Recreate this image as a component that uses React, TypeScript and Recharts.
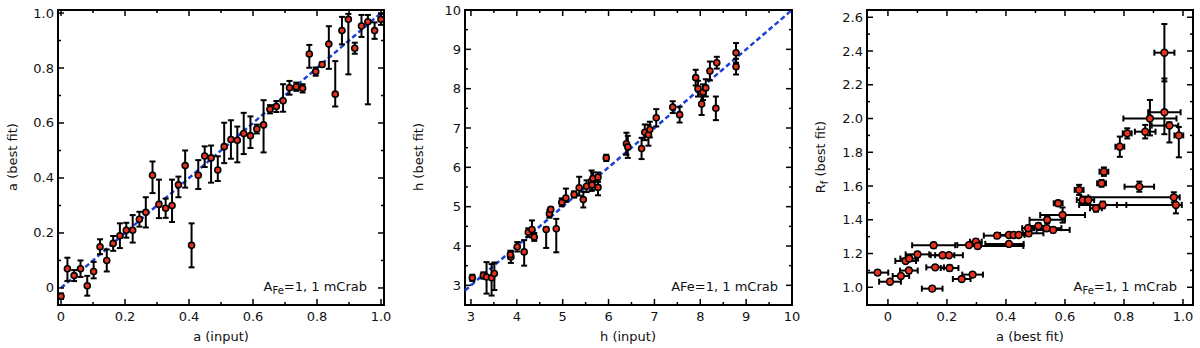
import { ScatterChart, Scatter, XAxis, YAxis, ErrorBar, ReferenceArea, ReferenceLine } from "recharts";

// panel 1: a (input) vs a (best fit)
const aInput = [0, 0.02, 0.041, 0.061, 0.082, 0.102, 0.122, 0.143, 0.163, 0.184, 0.204, 0.224, 0.245, 0.265, 0.286, 0.306, 0.327, 0.347, 0.367, 0.388, 0.408, 0.429, 0.449, 0.469, 0.49, 0.51, 0.531, 0.551, 0.571, 0.592, 0.612, 0.633, 0.653, 0.673, 0.694, 0.714, 0.735, 0.755, 0.776, 0.796, 0.816, 0.837, 0.857, 0.878, 0.898, 0.918, 0.939, 0.959, 0.98, 1.0];
const aBestFit = [-0.03, 0.07, 0.045, 0.07, 0.008, 0.06, 0.15, 0.1, 0.162, 0.19, 0.21, 0.21, 0.25, 0.275, 0.41, 0.304, 0.29, 0.3, 0.375, 0.445, 0.155, 0.41, 0.48, 0.473, 0.429, 0.514, 0.54, 0.537, 0.562, 0.554, 0.578, 0.593, 0.65, 0.66, 0.681, 0.728, 0.732, 0.726, 0.851, 0.787, 0.813, 0.887, 0.705, 0.936, 0.977, 0.872, 0.953, 0.968, 0.936, 0.977];
const aErrLow = [0.01, 0.045, 0.02, 0.03, 0.036, 0.025, 0.027, 0.04, 0.027, 0.045, 0.027, 0.045, 0.027, 0.055, 0.065, 0.05, 0.035, 0.06, 0.045, 0.08, 0.08, 0.05, 0.04, 0.09, 0.04, 0.06, 0.07, 0.08, 0.075, 0.045, 0.016, 0.1, 0.015, 0.02, 0.04, 0.025, 0.015, 0.015, 0.05, 0.015, 0.008, 0.09, 0.045, 0.05, 0.2, 0.02, 0.04, 0.3, 0.03, 0.02];
const aErrHigh = [0.01, 0.04, 0.02, 0.03, 0.036, 0.035, 0.027, 0.04, 0.027, 0.045, 0.027, 0.055, 0.027, 0.055, 0.05, 0.09, 0.035, 0.094, 0.03, 0.055, 0.08, 0.055, 0.035, 0.045, 0.05, 0.087, 0.07, 0.05, 0.075, 0.07, 0.016, 0.09, 0.015, 0.02, 0.06, 0.025, 0.015, 0.015, 0.033, 0.015, 0.008, 0.065, 0.12, 0.05, 0.02, 0.02, 0.04, 0.025, 0.03, 0.02];

// panel 2: h (input) vs h (best fit)
const hInput = [3.03, 3.27, 3.34, 3.45, 3.51, 3.87, 3.86, 4.01, 4.16, 4.25, 4.33, 4.38, 4.64, 4.71, 4.74, 4.86, 4.98, 5.07, 5.25, 5.36, 5.45, 5.52, 5.63, 5.66, 5.64, 5.77, 5.77, 5.95, 6.39, 6.42, 6.72, 6.79, 6.87, 6.9, 7.04, 7.4, 7.55, 7.9, 7.95, 8.06, 8.12, 8.03, 8.21, 8.36, 8.34, 8.78, 8.78];
const hBestFit = [3.19, 3.25, 3.21, 3.19, 3.3, 3.72, 3.78, 3.98, 3.85, 4.35, 4.42, 4.23, 4.42, 4.82, 4.93, 4.44, 5.11, 5.22, 5.31, 5.48, 5.18, 5.52, 5.65, 5.72, 5.55, 5.49, 5.75, 6.24, 6.6, 6.52, 6.48, 6.89, 6.83, 6.96, 7.26, 7.53, 7.34, 8.28, 8.0, 7.91, 8.02, 7.61, 8.45, 8.66, 7.5, 8.91, 8.56];
const hErrLow = [0.08, 0.08, 0.42, 0.45, 0.42, 0.15, 0.1, 0.12, 0.35, 0.12, 0.2, 0.1, 0.47, 0.1, 0.05, 0.6, 0.1, 0.1, 0.08, 0.2, 0.2, 0.15, 0.25, 0.15, 0.12, 0.2, 0.12, 0.08, 0.28, 0.28, 0.27, 0.2, 0.28, 0.2, 0.22, 0.15, 0.2, 0.2, 0.2, 0.2, 0.22, 0.28, 0.24, 0.15, 0.3, 0.25, 0.2];
const hErrHigh = [0.08, 0.08, 0.38, 0.35, 0.28, 0.15, 0.1, 0.12, 0.3, 0.1, 0.23, 0.1, 0.05, 0.1, 0.05, 0.25, 0.1, 0.24, 0.08, 0.28, 0.2, 0.15, 0.27, 0.15, 0.12, 0.2, 0.12, 0.08, 0.28, 0.28, 0.27, 0.2, 0.25, 0.2, 0.22, 0.15, 0.2, 0.2, 0.2, 0.2, 0.22, 0.24, 0.24, 0.15, 0.3, 0.25, 0.2];

// panel 3: a (best fit) vs Rf (best fit)
const rA = [-0.035, 0.007, 0.044, 0.06, 0.071, 0.072, 0.1, 0.15, 0.155, 0.16, 0.185, 0.207, 0.209, 0.25, 0.275, 0.287, 0.298, 0.304, 0.37, 0.41, 0.41, 0.426, 0.443, 0.477, 0.475, 0.51, 0.54, 0.538, 0.56, 0.592, 0.577, 0.648, 0.66, 0.679, 0.705, 0.728, 0.724, 0.732, 0.786, 0.811, 0.852, 0.872, 0.888, 0.937, 0.937, 0.954, 0.986, 0.969, 0.976];
const rAErrLow = [0.036, 0.037, 0.028, 0.035, 0.03, 0.03, 0.04, 0.035, 0.073, 0.03, 0.04, 0.047, 0.03, 0.03, 0.04, 0.035, 0.02, 0.03, 0.045, 0.03, 0.08, 0.02, 0.02, 0.02, 0.02, 0.03, 0.06, 0.05, 0.056, 0.076, 0.015, 0.015, 0.02, 0.02, 0.02, 0.08, 0.015, 0.015, 0.015, 0.015, 0.05, 0.035, 0.09, 0.034, 0.055, 0.06, 0.015, 0.29, 0.2];
const rAErrHigh = [0.036, 0.037, 0.028, 0.035, 0.03, 0.03, 0.04, 0.035, 0.073, 0.03, 0.04, 0.047, 0.03, 0.03, 0.04, 0.035, 0.02, 0.155, 0.045, 0.03, 0.05, 0.02, 0.02, 0.05, 0.02, 0.03, 0.06, 0.05, 0.056, 0.076, 0.015, 0.015, 0.02, 0.02, 0.02, 0.08, 0.015, 0.015, 0.015, 0.015, 0.05, 0.035, 0.09, 0.034, 0.055, 0.03, 0.015, 0.02, 0.02];
const rfBestFit = [1.087, 1.033, 1.067, 1.156, 1.099, 1.17, 1.195, 0.992, 1.249, 1.118, 1.19, 1.19, 1.114, 1.049, 1.25, 1.075, 1.27, 1.245, 1.306, 1.31, 1.257, 1.31, 1.31, 1.32, 1.35, 1.363, 1.4, 1.35, 1.34, 1.428, 1.498, 1.577, 1.517, 1.517, 1.468, 1.488, 1.616, 1.685, 1.833, 1.912, 1.596, 1.922, 2.0, 2.39, 2.037, 1.958, 1.9, 1.533, 1.488];
const rfErrLow = [0.012, 0.012, 0.012, 0.012, 0.015, 0.015, 0.015, 0.012, 0.015, 0.012, 0.012, 0.012, 0.015, 0.012, 0.012, 0.012, 0.015, 0.015, 0.015, 0.012, 0.012, 0.012, 0.012, 0.015, 0.015, 0.015, 0.02, 0.015, 0.015, 0.045, 0.015, 0.03, 0.02, 0.02, 0.02, 0.02, 0.02, 0.025, 0.06, 0.03, 0.03, 0.04, 0.1, 0.17, 0.13, 0.1, 0.13, 0.03, 0.05];
const rfErrHigh = [0.012, 0.012, 0.012, 0.012, 0.015, 0.015, 0.015, 0.012, 0.015, 0.012, 0.012, 0.012, 0.015, 0.012, 0.012, 0.012, 0.015, 0.015, 0.015, 0.012, 0.012, 0.012, 0.012, 0.015, 0.015, 0.015, 0.02, 0.015, 0.015, 0.045, 0.015, 0.03, 0.02, 0.02, 0.02, 0.02, 0.02, 0.025, 0.06, 0.03, 0.03, 0.04, 0.11, 0.17, 0.2, 0.02, 0.05, 0.03, 0.05];

// ticks (minor + major) and labels
const unitTicks = [0, 0.1, 0.2, 0.3, 0.4, 0.5, 0.6, 0.7, 0.8, 0.9, 1.0];
const unitMajor = [0, 0.2, 0.4, 0.6, 0.8, 1.0];
const unitLabels = ["0", "0.2", "0.4", "0.6", "0.8", "1.0"];
const hTicks = [3, 3.5, 4, 4.5, 5, 5.5, 6, 6.5, 7, 7.5, 8, 8.5, 9, 9.5, 10];
const hMajor = [3, 4, 5, 6, 7, 8, 9, 10];
const hLabels = ["3", "4", "5", "6", "7", "8", "9", "10"];
const rfTicks = [1.0, 1.1, 1.2, 1.3, 1.4, 1.5, 1.6, 1.7, 1.8, 1.9, 2.0, 2.1, 2.2, 2.3, 2.4, 2.5, 2.6];
const rfMajor = [1.0, 1.2, 1.4, 1.6, 1.8, 2.0, 2.2, 2.4, 2.6];
const rfLabels = ["1.0", "1.2", "1.4", "1.6", "1.8", "2.0", "2.2", "2.4", "2.6"];

const H = 348;
const TOP = 10;
const PLOT_H = 295;
const FONT = "'DejaVu Sans', sans-serif";
const DOT = "#e8321e";
const DASH = "#1c3fd6";

const findLabel = (v: number, majors: number[], labels: string[]) => {
  const i = majors.findIndex((m) => Math.abs(m - v) < 1e-9);
  return i >= 0 ? labels[i] : null;
};

const makeXTick = (majors: number[], labels: string[]) => (props: any) => {
  const { x, y, payload } = props;
  const label = findLabel(payload.value, majors, labels);
  const len = label ? 6 : 3;
  return (
    <g>
      <line x1={x} y1={y} x2={x} y2={y - len} stroke="#000" strokeWidth={1.5} />
      <line x1={x} y1={y - PLOT_H} x2={x} y2={y - PLOT_H + len} stroke="#000" strokeWidth={1.5} />
      {label && (
        <text x={x} y={y + 16} textAnchor="middle" fontSize={13} fill="#111" fontFamily={FONT}>
          {label}
        </text>
      )}
    </g>
  );
};

const makeYTick = (majors: number[], labels: string[], plotW: number) => (props: any) => {
  const { x, y, payload } = props;
  const label = findLabel(payload.value, majors, labels);
  const len = label ? 6 : 3;
  return (
    <g>
      <line x1={x} y1={y} x2={x + len} y2={y} stroke="#000" strokeWidth={1.5} />
      <line x1={x + plotW} y1={y} x2={x + plotW - len} y2={y} stroke="#000" strokeWidth={1.5} />
      {label && (
        <text x={x - 4} y={y + 4.5} textAnchor="end" fontSize={13} fill="#111" fontFamily={FONT}>
          {label}
        </text>
      )}
    </g>
  );
};

const makeDot = (r: number) => (props: any) => (
  <circle cx={props.cx} cy={props.cy} r={r} fill={DOT} stroke="#000" strokeWidth={1.6} />
);

type PanelProps = {
  left: number;
  yAxisWidth: number;
  rightMargin: number;
  data: any[];
  xDomain: [number, number];
  yDomain: [number, number];
  xTicks: number[];
  xMajor: number[];
  xLabels: string[];
  yTicks: number[];
  yMajor: number[];
  yLabels: string[];
  identity?: number[];
  xErr?: boolean;
  dotR: number;
};

const Panel = (p: PanelProps) => {
  const W = 400;
  const plotW = W - p.yAxisWidth - p.rightMargin;
  return (
    <div style={{ position: "absolute", left: p.left, top: 0 }}>
      <ScatterChart width={W} height={H} margin={{ top: TOP, right: p.rightMargin, bottom: 0, left: 0 }}>
        <XAxis
          type="number"
          dataKey="x"
          domain={p.xDomain}
          allowDataOverflow
          ticks={p.xTicks}
          interval={0}
          height={H - TOP - PLOT_H}
          tickSize={0}
          tickMargin={0}
          axisLine={false}
          tickLine={false}
          tick={makeXTick(p.xMajor, p.xLabels)}
        />
        <YAxis
          type="number"
          dataKey="y"
          domain={p.yDomain}
          allowDataOverflow
          ticks={p.yTicks}
          interval={0}
          width={p.yAxisWidth}
          tickSize={0}
          tickMargin={0}
          axisLine={false}
          tickLine={false}
          tick={makeYTick(p.yMajor, p.yLabels, plotW)}
        />
        <ReferenceArea
          x1={p.xDomain[0]}
          x2={p.xDomain[1]}
          y1={p.yDomain[0]}
          y2={p.yDomain[1]}
          fill="none"
          stroke="#000"
          strokeWidth={2}
          fillOpacity={0}
        />
        {p.identity && (
          <ReferenceLine
            segment={[
              { x: p.identity[0], y: p.identity[0] },
              { x: p.identity[1], y: p.identity[1] },
            ]}
            stroke={DASH}
            strokeWidth={2.5}
            strokeDasharray="5 3"
          />
        )}
        <Scatter data={p.data} dataKey="y" isAnimationActive={false} shape={makeDot(p.dotR)}>
          {p.xErr && (
            <ErrorBar dataKey="ex" direction="x" width={3} stroke="#000" strokeWidth={2} />
          )}
          <ErrorBar dataKey="ey" direction="y" width={3} stroke="#000" strokeWidth={2} />
        </Scatter>
      </ScatterChart>
    </div>
  );
};

const absText = (style: React.CSSProperties, content: React.ReactNode, key: string) => (
  <div key={key} style={{ position: "absolute", whiteSpace: "nowrap", fontSize: 13, lineHeight: "15px", color: "#111", ...style }}>
    {content}
  </div>
);

const subStyle: React.CSSProperties = { fontSize: 10, verticalAlign: "-3px", lineHeight: 0 };

export default function App() {
  const data1 = aInput.map((x, i) => ({ x, y: aBestFit[i], ey: [aErrLow[i], aErrHigh[i]] }));
  const data2 = hInput.map((x, i) => ({ x, y: hBestFit[i], ey: [hErrLow[i], hErrHigh[i]] }));
  const data3 = rA.map((x, i) => ({
    x,
    y: rfBestFit[i],
    ex: [rAErrLow[i], rAErrHigh[i]],
    ey: [rfErrLow[i], rfErrHigh[i]],
  }));

  return (
    <div style={{ position: "absolute", left: 0, top: 0, width: 1200, height: H, background: "#fff", fontFamily: FONT }}>
      <Panel
        left={0}
        yAxisWidth={58}
        rightMargin={16}
        data={data1}
        xDomain={[-0.0094, 1.0094]}
        yDomain={[-0.062, 1.011]}
        xTicks={unitTicks}
        xMajor={unitMajor}
        xLabels={unitLabels}
        yTicks={unitTicks}
        yMajor={unitMajor}
        yLabels={unitLabels}
        identity={[0, 1]}
        dotR={3}
      />
      <Panel
        left={400}
        yAxisWidth={65}
        rightMargin={8}
        data={data2}
        xDomain={[2.87, 10]}
        yDomain={[2.5, 10]}
        xTicks={hTicks}
        xMajor={hMajor}
        xLabels={hLabels}
        yTicks={hTicks}
        yMajor={hMajor}
        yLabels={hLabels}
        identity={[2.87, 10]}
        dotR={3}
      />
      <Panel
        left={800}
        yAxisWidth={67}
        rightMargin={7}
        data={data3}
        xDomain={[-0.071, 1.034]}
        yDomain={[0.895, 2.643]}
        xTicks={unitTicks}
        xMajor={unitMajor}
        xLabels={unitLabels}
        yTicks={rfTicks}
        yMajor={rfMajor}
        yLabels={rfLabels}
        xErr
        dotR={3.4}
      />

      {absText({ left: 221, top: 329, transform: "translateX(-50%)" }, "a (input)", "xl1")}
      {absText({ left: 628, top: 329, transform: "translateX(-50%)" }, "h (input)", "xl2")}
      {absText({ left: 1030, top: 329, transform: "translateX(-50%)" }, "a (best fit)", "xl3")}

      {absText({ left: 12, top: 157, transform: "translate(-50%, -50%) rotate(-90deg)" }, "a (best fit)", "yl1")}
      {absText({ left: 418, top: 157, transform: "translate(-50%, -50%) rotate(-90deg)" }, "h (best fit)", "yl2")}
      {absText(
        { left: 820, top: 157, transform: "translate(-50%, -50%) rotate(-90deg)" },
        <span>R<span style={subStyle}>f</span> (best fit)</span>,
        "yl3"
      )}

      {absText(
        { right: 1200 - 367, top: 279 },
        <span>A<span style={subStyle}>Fe</span>=1, 1 mCrab</span>,
        "n1"
      )}
      {absText({ right: 1200 - 778, top: 279 }, "AFe=1, 1 mCrab", "n2")}
      {absText(
        { right: 1200 - 1177, top: 279 },
        <span>A<span style={subStyle}>Fe</span>=1, 1 mCrab</span>,
        "n3"
      )}
    </div>
  );
}
